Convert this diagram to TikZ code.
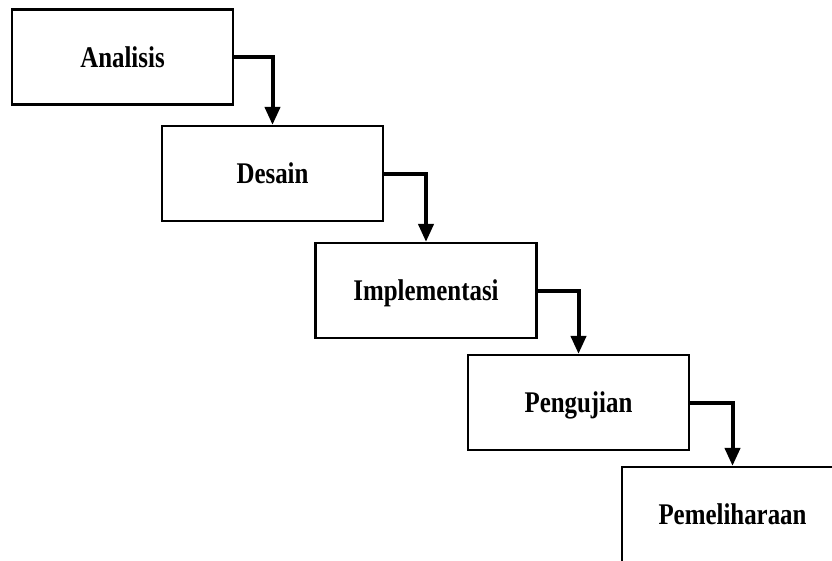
\documentclass[tikz,border=0pt]{standalone}
\usepackage{graphicx}
\usepackage{fontspec}
\setmainfont{Liberation Serif}
\usetikzlibrary{arrows.meta}

\begin{document}
\begin{tikzpicture}[x=1pt, y=-1pt,
    phase/.style={rectangle, draw=black, line width=2.2pt, minimum width=221pt, minimum height=95pt,
        inner sep=0pt, text height=20pt, text depth=0pt, font=\bfseries\fontsize{30}{34}\selectfont},
    flow/.style={line width=4pt, -{Triangle[length=18pt, width=15pt]}}
]
\useasboundingbox (0,0) rectangle (832,560);

% Phases (x, y) - y grows downward
\foreach \x/\y/\nm/\txt in {122.5/57/analisis/Analisis, 272.5/173.5/desain/Desain,
        426/290.5/implementasi/Implementasi, 578.5/402.5/pengujian/Pengujian,
        732.5/514.5/pemeliharaan/Pemeliharaan} {
    \node[phase] (\nm) at (\x, \y) {\scalebox{0.83}[1]{\txt}};
}

% Flow arrows
\foreach \a/\b in {analisis/desain, desain/implementasi, implementasi/pengujian, pengujian/pemeliharaan} {
    \draw[flow] (\a.east) -| (\b.north);
}

\end{tikzpicture}
\end{document}
